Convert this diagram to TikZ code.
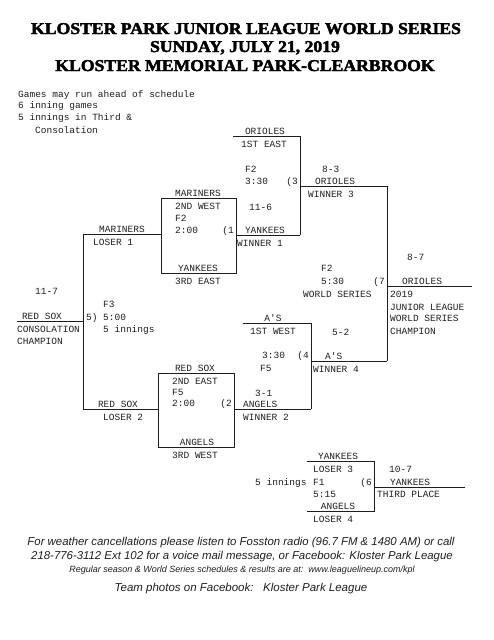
\documentclass[tikz,border=0pt]{standalone}
\usepackage{fontspec}
\usepackage{tikz}
\setmainfont{Liberation Serif}
\newfontfamily\mono{Liberation Mono}
\newfontfamily\titlefont[BoldFeatures={FakeBold=2.4}]{Liberation Serif}
\newfontfamily\notefont{Liberation Sans}
\definecolor{ink}{RGB}{30,30,30}
\newcommand{\widehead}[1]{\scalebox{1.07}[1]{#1}}

\begin{document}
\begin{tikzpicture}[x=1pt, y=-1pt, ln/.style={draw=ink, line width=0.6pt},
  t/.style={anchor=base west, inner sep=0pt, text=ink,
    font=\mono\fontsize{9.5}{12}\selectfont},
  tc/.style={t, anchor=base}, te/.style={t, anchor=base east},
  head/.style={anchor=base, inner sep=0pt,
    font=\titlefont\bfseries\fontsize{16.5}{20}\selectfont},
  foot/.style={anchor=base, inner sep=0pt, text=ink,
    font=\notefont\itshape\fontsize{#1}{12}\selectfont}]
  \useasboundingbox (0,0) rectangle (494,640);
  % title
  \node[head] (title1) at (246,34) {\widehead{KLOSTER PARK JUNIOR LEAGUE WORLD SERIES}};
  \node[head] (title2) at (245,52) {\widehead{SUNDAY, JULY 21, 2019}};
  \node[head] (title3) at (245,71) {\widehead{KLOSTER MEMORIAL PARK-CLEARBROOK}};
  % notes
  \node[t] (note1) at (18,97) {Games may run ahead of schedule};
  \node[t] (note2) at (18,108) {6 inning games};
  \node[t] (note3) at (18,120) {5 innings in Third \&};
  \node[t] (note4) at (35,133) {Consolation};

  % bracket corners
  \coordinate (g1nw) at (161,198); \coordinate (g1se) at (236,273);
  \coordinate (g1w) at (161,234);  \coordinate (g1e) at (236,235);
  \coordinate (g2nw) at (158,373); \coordinate (g2se) at (234,447);
  \coordinate (g2w) at (158,409);  \coordinate (g2e) at (234,409);
  \coordinate (g3a) at (233,136);  \coordinate (g3b) at (300,136);
  \coordinate (g3c) at (300,235);  \coordinate (g3e) at (300,186);
  \coordinate (g4a) at (243,323);  \coordinate (g4b) at (311,323);
  \coordinate (g4c) at (311,409);  \coordinate (g4e) at (311,361);
  \coordinate (g5a) at (83,234);   \coordinate (g5c) at (83,409);
  \coordinate (g5e) at (83,321);   \coordinate (g5f) at (17,321);
  \coordinate (g7a) at (387,186);  \coordinate (g7c) at (387,361);
  \coordinate (g7e) at (387,286);  \coordinate (g7f) at (472,286);
  \coordinate (g6a) at (307,461);  \coordinate (g6b) at (374,461);
  \coordinate (g6c) at (374,511);  \coordinate (g6d) at (307,511);
  \coordinate (g6e) at (374,487);  \coordinate (g6f) at (465,487);

  \draw[ln] (g1nw) rectangle (g1se);
  \draw[ln] (g1e) -- (g3c); \draw[ln] (g1w) -- (g5a);
  \draw[ln] (g2nw) rectangle (g2se);
  \draw[ln] (g2e) -- (g4c); \draw[ln] (g2w) -- (g5c);
  \draw[ln] (g3a) -- (g3b) -- (g3c); \draw[ln] (g3e) -- (g7a);
  \draw[ln] (g4a) -- (g4b) -- (g4c); \draw[ln] (g4e) -- (g7c);
  \draw[ln] (g5a) -- (g5c); \draw[ln] (g5e) -- (g5f);
  \draw[ln] (g7a) -- (g7c); \draw[ln] (g7e) -- (g7f);
  \draw[ln] (g6a) -- (g6b) -- (g6c) -- (g6d); \draw[ln] (g6e) -- (g6f);

  % game 1
  \node[tc] (m1) at (198,196) {MARINERS};
  \node[t] (m1s) at (175,209) {2ND WEST};
  \node[t] (g1f) at (175,221) {F2};
  \node[t] (g1time) at (175,233) {2:00};
  \node[te] (g1no) at (234,233) {(1};
  \node[tc] (y1) at (198,271) {YANKEES};
  \node[t] (y1s) at (175,284) {3RD EAST};
  \node[t] (g1score) at (249,210) {11-6};
  \node[tc] (y1w) at (265,233) {YANKEES};
  \node[t] (y1ws) at (237,246) {WINNER 1};
  \node[tc] (m1l) at (122,232) {MARINERS};
  \node[t] (m1ls) at (93,245) {LOSER 1};
  % game 3
  \node[tc] (o3) at (265,134) {ORIOLES};
  \node[t] (o3s) at (241,147) {1ST EAST};
  \node[t] (g3f) at (245,172) {F2};
  \node[t] (g3time) at (245,184) {3:30};
  \node[te] (g3no) at (298,184) {(3};
  \node[t] (g3score) at (322,172) {8-3};
  \node[tc] (o3w) at (335,184) {ORIOLES};
  \node[t] (o3ws) at (308,197) {WINNER 3};
  % game 2
  \node[tc] (r2) at (195,371) {RED SOX};
  \node[t] (r2s) at (172,384) {2ND EAST};
  \node[t] (g2f) at (172,395) {F5};
  \node[t] (g2time) at (172,406) {2:00};
  \node[te] (g2no) at (232,406) {(2};
  \node[tc] (a2) at (197,445) {ANGELS};
  \node[t] (a2s) at (172,458) {3RD WEST};
  \node[t] (g2score) at (255,396) {3-1};
  \node[t] (a2w) at (243,407) {ANGELS};
  \node[t] (a2ws) at (243,420) {WINNER 2};
  \node[tc] (r2l) at (118,407) {RED SOX};
  \node[t] (r2ls) at (103,420) {LOSER 2};
  % game 4
  \node[tc] (a4) at (273,321) {A'S};
  \node[t] (a4s) at (250,334) {1ST WEST};
  \node[t] (g4time) at (262,358) {3:30};
  \node[te] (g4no) at (309,358) {(4};
  \node[t] (g4f) at (260,371) {F5};
  \node[t] (g4score) at (332,335) {5-2};
  \node[t] (a4w) at (325,359) {A'S};
  \node[t] (a4ws) at (313,372) {WINNER 4};
  % game 5
  \node[t] (g5score) at (35,294) {11-7};
  \node[t] (g5f) at (103,307) {F3};
  \node[t] (g5no) at (86,320) {5)};
  \node[t] (g5time) at (103,320) {5:00};
  \node[t] (g5inn) at (103,332) {5 innings};
  \node[tc] (r5) at (42,319) {RED SOX};
  \node[t] (r5s) at (17,332) {CONSOLATION};
  \node[t] (r5s2) at (17,344) {CHAMPION};
  % game 7
  \node[t] (g7f) at (321,271) {F2};
  \node[t] (g7time) at (321,284) {5:30};
  \node[t] (g7name) at (303,297) {WORLD SERIES};
  \node[te] (g7no) at (385,284) {(7};
  \node[t] (g7score) at (407,260) {8-7};
  \node[tc] (o7) at (422,284) {ORIOLES};
  \node[t] (o7s1) at (390,297) {2019};
  \node[t] (o7s2) at (390,310) {JUNIOR LEAGUE};
  \node[t] (o7s3) at (390,321) {WORLD SERIES};
  \node[t] (o7s4) at (390,334) {CHAMPION};
  % game 6
  \node[tc] (y6) at (338,459) {YANKEES};
  \node[t] (y6s) at (313,472) {LOSER 3};
  \node[t] (g6inn) at (255,485) {5 innings};
  \node[t] (g6f) at (313,485) {F1};
  \node[te] (g6no) at (372,485) {(6};
  \node[t] (g6time) at (313,497) {5:15};
  \node[tc] (a6) at (338,509) {ANGELS};
  \node[t] (a6s) at (313,522) {LOSER 4};
  \node[t] (g6score) at (389,472) {10-7};
  \node[tc] (y6w) at (410,485) {YANKEES};
  \node[t] (y6ws) at (377,497) {THIRD PLACE};
  % footer
  \node[foot=11.4] (foot1) at (241,545)
    {For weather cancellations please listen to Fosston radio (96.7 FM \& 1480 AM) or call};
  \node[foot=11.4] (foot2) at (242,559)
    {218-776-3112 Ext 102 for a voice mail message, or Facebook: Kloster Park League};
  \node[foot=9] (foot3) at (242,572)
    {Regular season \& World Series schedules \& results are at:\ \ www.leaguelineup.com/kpl};
  \node[foot=11.5] (foot4) at (241,591)
    {Team photos on Facebook:\ \ \ Kloster Park League};
\end{tikzpicture}
\end{document}
